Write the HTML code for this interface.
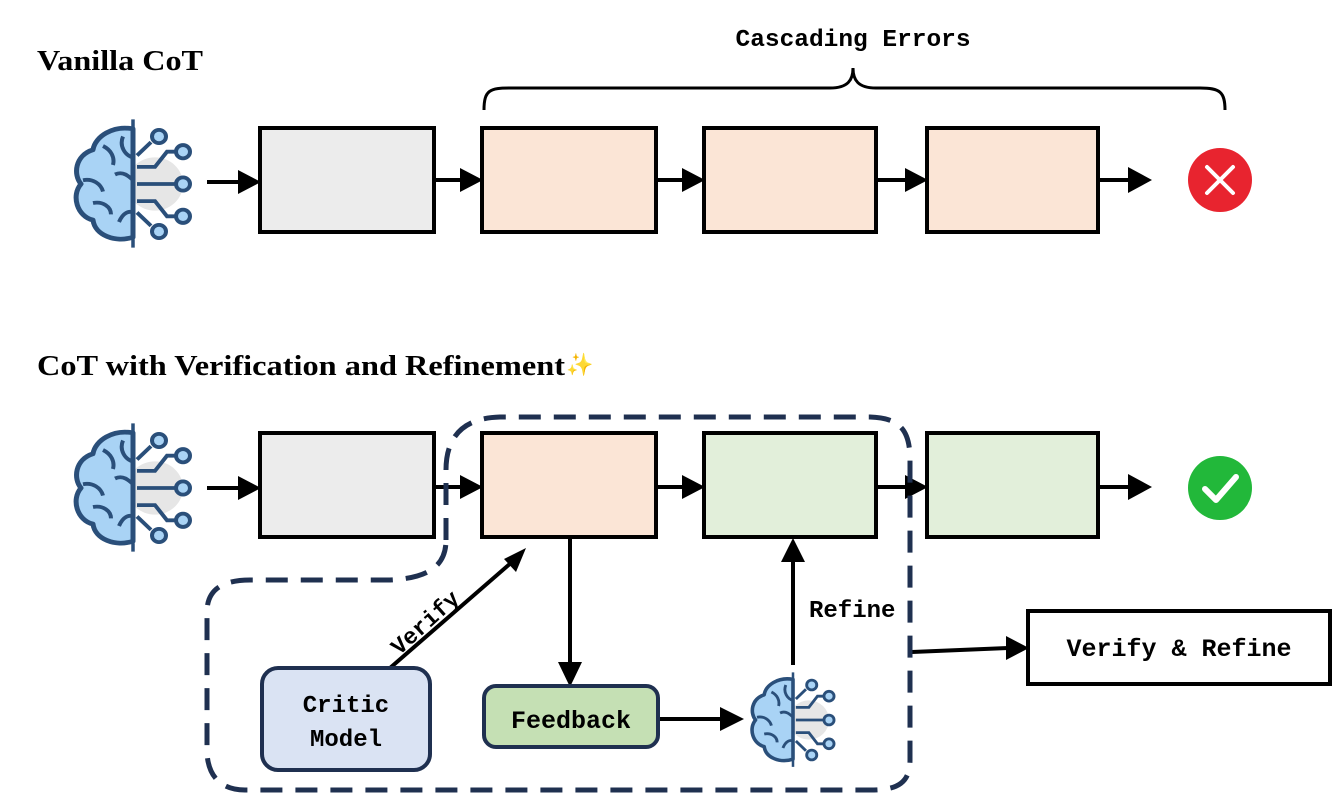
<!DOCTYPE html>
<html><head><meta charset="utf-8"><style>
html,body{margin:0;padding:0;background:#fff;}
svg{display:block;}
.t{font-family:"Liberation Mono",monospace;font-weight:bold;fill:#000;}
.s{font-family:"Liberation Serif",serif;font-weight:bold;fill:#000;}
</style></head><body>
<svg width="1338" height="797" viewBox="0 0 1338 797" xmlns="http://www.w3.org/2000/svg">
<defs>
<g id="brain">
<circle cx="22" cy="0" r="28" fill="#e6e6e6"/>
<path d="M0,-58 C-20,-62 -38,-50 -40,-36 C-58,-30 -60,-10 -52,0 C-62,12 -56,34 -40,38 C-38,54 -18,62 0,56 Z" fill="#a9d3f5" stroke="#2a4f7a" stroke-width="5" stroke-linejoin="round"/>
<path d="M-30,-40 C-22,-36 -18,-28 -20,-20 M-50,-4 C-40,-6 -32,0 -30,8 M-10,-50 C-14,-40 -8,-30 0,-28 M-40,20 C-30,18 -22,24 -22,32 M-18,-10 C-10,-14 -4,-8 0,-4 M-14,40 C-10,30 -4,28 0,30" fill="none" stroke="#2a4f7a" stroke-width="4"/>
<line x1="0" y1="-68" x2="0" y2="68" stroke="#2a4f7a" stroke-width="3.5" stroke-dasharray="9,5"/>
<path d="M4,-18 H22 L34,-34 H44 M4,0 H42 M4,18 H22 L34,34 H44 M4,-30 L18,-44 M4,30 L18,44" fill="none" stroke="#2a4f7a" stroke-width="4"/>
<circle cx="26" cy="-50" r="7" fill="#a9d3f5" stroke="#2a4f7a" stroke-width="4"/>
<circle cx="50" cy="-34" r="7" fill="#a9d3f5" stroke="#2a4f7a" stroke-width="4"/>
<circle cx="50" cy="0" r="7" fill="#a9d3f5" stroke="#2a4f7a" stroke-width="4"/>
<circle cx="50" cy="34" r="7" fill="#a9d3f5" stroke="#2a4f7a" stroke-width="4"/>
<circle cx="26" cy="50" r="7" fill="#a9d3f5" stroke="#2a4f7a" stroke-width="4"/>
</g>
</defs>

<text x="37" y="70" class="s" font-size="29" textLength="166" lengthAdjust="spacingAndGlyphs">Vanilla CoT</text>
<text x="853" y="46" class="t" font-size="24" text-anchor="middle" textLength="235" lengthAdjust="spacingAndGlyphs">Cascading Errors</text>
<path d="M484,110 C484,90 490,88 510,88 L830,88 C848,88 853,80 853,68 C853,80 858,88 876,88 L1200,88 C1220,88 1225,92 1225,110" fill="none" stroke="#000" stroke-width="3"/>

<use href="#brain" transform="translate(133,184) scale(1,0.95)"/>
<g stroke="#000" stroke-width="4" fill="none">
<rect x="260" y="128" width="174" height="104" fill="#ececec"/>
<rect x="482" y="128" width="174" height="104" fill="#fbe5d6"/>
<rect x="704" y="128" width="172" height="104" fill="#fbe5d6"/>
<rect x="927" y="128" width="171" height="104" fill="#fbe5d6"/>
</g>
<g stroke="#000" stroke-width="4">
<line x1="207" y1="182" x2="240" y2="182"/><line x1="434" y1="180" x2="462" y2="180"/>
<line x1="656" y1="180" x2="684" y2="180"/><line x1="876" y1="180" x2="907" y2="180"/>
<line x1="1098" y1="180" x2="1130" y2="180"/>
</g>
<g fill="#000">
<path d="M238,170 L261,182 L238,194Z"/><path d="M460,168 L483,180 L460,192Z"/>
<path d="M682,168 L705,180 L682,192Z"/><path d="M905,168 L928,180 L905,192Z"/>
<path d="M1128,167 L1152,180 L1128,193Z"/>
</g>
<circle cx="1220" cy="180" r="32" fill="#e8242f"/>
<path d="M1207,167 L1233,193 M1233,167 L1207,193" stroke="#fff" stroke-width="4" stroke-linecap="round"/>

<text x="37" y="375" class="s" font-size="29" textLength="528" lengthAdjust="spacingAndGlyphs">CoT with Verification and Refinement</text>
<text x="566" y="372" font-size="22" fill="#f5c542">✨</text>

<use href="#brain" transform="translate(133,488) scale(1,0.95)"/>
<g stroke="#000" stroke-width="4">
<rect x="260" y="433" width="174" height="104" fill="#ececec"/>
<rect x="482" y="433" width="174" height="104" fill="#fbe5d6"/>
<rect x="704" y="433" width="172" height="104" fill="#e2efda"/>
<rect x="927" y="433" width="171" height="104" fill="#e2efda"/>
<line x1="207" y1="488" x2="240" y2="488"/><line x1="434" y1="487" x2="462" y2="487"/>
<line x1="656" y1="487" x2="684" y2="487"/><line x1="876" y1="487" x2="907" y2="487"/>
<line x1="1098" y1="487" x2="1130" y2="487"/>
<line x1="570" y1="537" x2="570" y2="665"/>
<line x1="793" y1="665" x2="793" y2="560"/>
<line x1="390" y1="668" x2="512" y2="562"/>
<line x1="658" y1="719" x2="722" y2="719"/>
<line x1="912" y1="652" x2="1008" y2="648"/>
</g>
<g fill="#000">
<path d="M238,476 L261,488 L238,500Z"/><path d="M460,475 L483,487 L460,499Z"/>
<path d="M682,475 L705,487 L682,499Z"/><path d="M905,475 L928,487 L905,499Z"/>
<path d="M1128,474 L1152,487 L1128,500Z"/>
<path d="M558,662 L570,687 L582,662Z"/>
<path d="M781,562 L793,538 L805,562Z"/>
<path d="M526,548 L516,572 L504,559Z"/>
<path d="M720,707 L744,719 L720,731Z"/>
<path d="M1006,636 L1029,648 L1006,660Z"/>
</g>
<circle cx="1220" cy="488" r="32" fill="#22b83a"/>
<path d="M1205,489 L1216,500 L1236,477" fill="none" stroke="#fff" stroke-width="6" stroke-linecap="round" stroke-linejoin="round"/>

<path d="M446,540 L446,470 C446,440 460,418 500,417 L870,417 C900,418 910,430 910,460 L910,760 C910,785 895,790 870,790 L245,790 C220,790 207,775 207,750 L207,612 C207,590 222,580 250,580 L390,580 C430,578 446,565 446,540 Z" fill="none" stroke="#1f3050" stroke-width="5" stroke-dasharray="22,13"/>

<text x="430" y="628" class="t" font-size="23" transform="rotate(-42 430 628)" text-anchor="middle">Verify</text>
<text x="809" y="617" class="t" font-size="24">Refine</text>

<rect x="262" y="668" width="168" height="102" rx="16" fill="#dae3f3" stroke="#1f3050" stroke-width="4"/>
<text x="346" y="712" class="t" font-size="24" text-anchor="middle">Critic</text>
<text x="346" y="746" class="t" font-size="24" text-anchor="middle">Model</text>
<rect x="484" y="686" width="174" height="61" rx="12" fill="#c5e0b4" stroke="#1f3050" stroke-width="4"/>
<text x="571" y="728" class="t" font-size="25" text-anchor="middle">Feedback</text>
<use href="#brain" transform="translate(793,720) scale(0.72,0.7)"/>

<rect x="1028" y="611" width="302" height="73" fill="#fff" stroke="#000" stroke-width="4"/>
<text x="1179" y="656" class="t" font-size="25" text-anchor="middle">Verify &amp; Refine</text>
</svg>
</body></html>
